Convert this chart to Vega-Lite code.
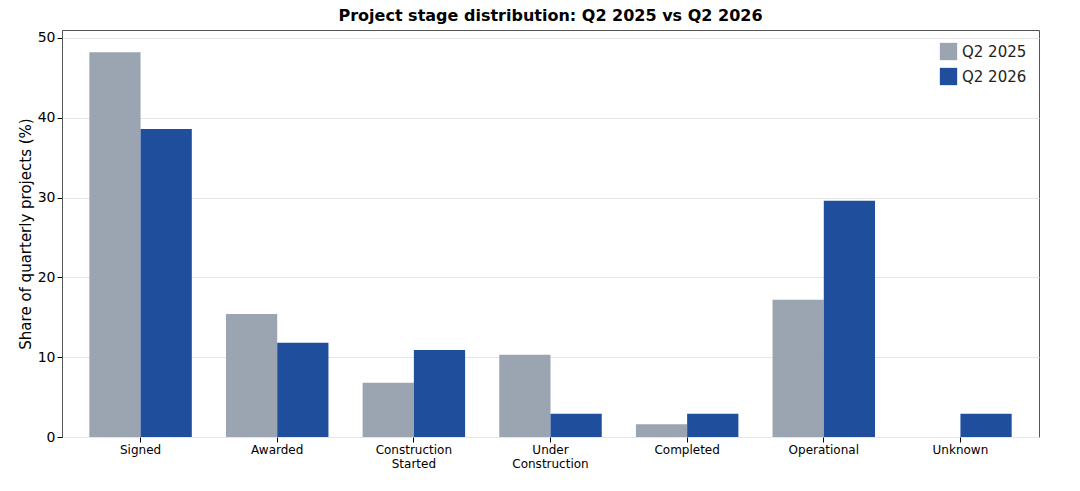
{
  "$schema": "https://vega.github.io/schema/vega-lite/v6.json",
  "width": 977,
  "height": 407,
  "padding": {"left": 18, "top": 8, "right": 5, "bottom": 5},
  "title": {"text": "Project stage distribution: Q2 2025 vs Q2 2026", "font": "DejaVu Sans", "fontSize": 16, "fontWeight": "bold", "color": "#000", "offset": 6},
  "data": {
    "values": [
      {"stage": "Signed", "quarter": "Q2 2025", "share": 48.2},
      {"stage": "Signed", "quarter": "Q2 2026", "share": 38.6},
      {"stage": "Awarded", "quarter": "Q2 2025", "share": 15.4},
      {"stage": "Awarded", "quarter": "Q2 2026", "share": 11.8},
      {"stage": "Construction Started", "quarter": "Q2 2025", "share": 6.8},
      {"stage": "Construction Started", "quarter": "Q2 2026", "share": 10.9},
      {"stage": "Under Construction", "quarter": "Q2 2025", "share": 10.3},
      {"stage": "Under Construction", "quarter": "Q2 2026", "share": 2.9},
      {"stage": "Completed", "quarter": "Q2 2025", "share": 1.6},
      {"stage": "Completed", "quarter": "Q2 2026", "share": 2.9},
      {"stage": "Operational", "quarter": "Q2 2025", "share": 17.2},
      {"stage": "Operational", "quarter": "Q2 2026", "share": 29.6},
      {"stage": "Unknown", "quarter": "Q2 2025", "share": 0},
      {"stage": "Unknown", "quarter": "Q2 2026", "share": 2.9}
    ]
  },
  "mark": "bar",
  "encoding": {
    "x": {
      "field": "stage", "type": "nominal", "sort": null, "title": null,
      "scale": {"paddingInner": 0.25, "paddingOuter": 0.2},
      "axis": {"labelAngle": 0, "labelFont": "DejaVu Sans", "labelFontSize": 12, "labelColor": "#000", "domain": false, "tickColor": "#000",
        "labelExpr": "datum.value == 'Construction Started' ? ['Construction', 'Started'] : datum.value == 'Under Construction' ? ['Under', 'Construction'] : datum.value"}
    },
    "xOffset": {"field": "quarter", "type": "nominal"},
    "y": {
      "field": "share", "type": "quantitative", "title": "Share of quarterly projects (%)",
      "scale": {"domain": [0, 51], "nice": false},
      "axis": {"values": [0, 10, 20, 30, 40, 50], "labelFont": "DejaVu Sans", "labelFontSize": 14, "labelColor": "#000", "titleFont": "DejaVu Sans", "titleFontSize": 15, "titleFontWeight": "normal", "titleColor": "#000", "gridColor": "#e6e6e6", "domain": false, "tickColor": "#000"}
    },
    "color": {
      "field": "quarter", "type": "nominal", "title": null,
      "scale": {"domain": ["Q2 2025", "Q2 2026"], "range": ["#9ba5b1", "#1f4e9c"]},
      "legend": {"orient": "top-right", "symbolType": "square", "symbolSize": 300, "labelFont": "DejaVu Sans", "labelFontSize": 15, "labelColor": "#222", "rowPadding": 6, "offset": 12}
    }
  },
  "config": {"view": {"stroke": "#555"}, "background": "white"}
}
